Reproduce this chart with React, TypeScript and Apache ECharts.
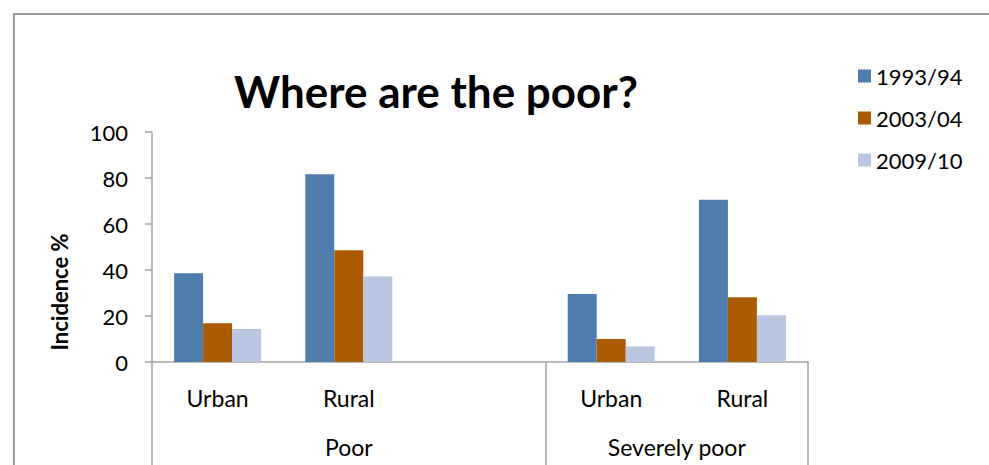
import React, { useEffect, useRef } from "react";
import * as echarts from "echarts";

const categories = ["Urban", "Rural", "", "Urban", "Rural"];
const groupLabels = ["Poor", "Severely poor"];
const seriesNames = ["1993/94", "2003/04", "2009/10"];
const s1993 = [38.6, 81.6, null, 29.6, 70.5];
const s2003 = [16.8, 48.6, null, 10.0, 28.2];
const s2009 = [14.3, 37.2, null, 6.8, 20.3];
const yTicks = [0, 20, 40, 60, 80, 100];
const yAxisTitle = "Incidence %";

const colors = ["#4F7DAE", "#AB5B00", "#B8C6E0"];
const FONT = "Lato";

export default function App() {
  const ref = useRef<HTMLDivElement>(null);
  useEffect(() => {
    const chart = echarts.init(ref.current!, null, { renderer: "svg" });
    const axisGray = "#A3A3A3";
    const data = [s1993, s2003, s2009];
    chart.setOption({
      animation: false,
      backgroundColor: "#ffffff",
      textStyle: { fontFamily: FONT },
      title: {
        text: "Where are the poor?",
        left: 431,
        top: 64,
        textAlign: "center",
        textStyle: { fontFamily: FONT, fontSize: 44, fontWeight: "bold", color: "#000" },
      },
      legend: {
        orient: "vertical",
        left: 853,
        top: 59,
        itemWidth: 13,
        itemHeight: 13,
        itemGap: 18,
        icon: "rect",
        data: seriesNames,
        textStyle: { fontFamily: FONT, fontSize: 22, color: "#000", lineHeight: 24 },
      },
      grid: { left: 152, top: 132, right: 181, bottom: 103, containLabel: false },
      xAxis: [
        {
          type: "category",
          data: categories,
          axisLine: { show: true, lineStyle: { color: axisGray, width: 1.5 } },
          axisTick: { show: false },
          axisLabel: { margin: 24, fontSize: 23, color: "#000", fontFamily: FONT },
        },
        {
          type: "value",
          min: 0,
          max: 5,
          position: "bottom",
          axisLine: { show: false },
          splitLine: { show: false },
          axisTick: {
            show: true,
            customValues: [0, 3, 5],
            length: 110,
            lineStyle: { color: axisGray, width: 1.5 },
          },
          axisLabel: {
            customValues: [1.5, 4],
            margin: 73,
            fontSize: 23,
            color: "#000",
            fontFamily: FONT,
            formatter: (v: number) => (v < 3 ? groupLabels[0] : groupLabels[1]),
          },
        },
      ],
      yAxis: {
        type: "value",
        min: yTicks[0],
        max: yTicks[yTicks.length - 1],
        interval: 20,
        axisLine: { show: true, lineStyle: { color: axisGray, width: 1.5 } },
        axisTick: { show: true, length: 7, lineStyle: { color: axisGray, width: 1.5 } },
        splitLine: { show: false },
        axisLabel: { margin: 24, fontSize: 22, color: "#000", fontFamily: FONT, padding: [8, 0, 0, 0] },
      },
      series: seriesNames.map((name, i) => ({
        name,
        type: "bar",
        xAxisIndex: 0,
        data: data[i],
        barWidth: 29,
        barGap: "0%",
        itemStyle: { color: colors[i] },
      })),
      graphic: [
        {
          type: "polyline",
          shape: { points: [[14, 480], [14, 14], [1000, 14]] },
          style: { stroke: "#9C9C9C", lineWidth: 2, fill: "none" },
          silent: true,
        },
        {
          type: "text",
          x: 59,
          y: 292,
          rotation: Math.PI / 2,
          silent: true,
          style: {
            text: yAxisTitle,
            fill: "#000",
            font: `bold 22px ${FONT}`,
            textAlign: "center",
            textVerticalAlign: "middle",
          },
        },
      ],
    });
    return () => chart.dispose();
  }, []);
  return (
    <div
      ref={ref}
      style={{ position: "absolute", left: 0, top: 0, width: 989, height: 465 }}
    />
  );
}
